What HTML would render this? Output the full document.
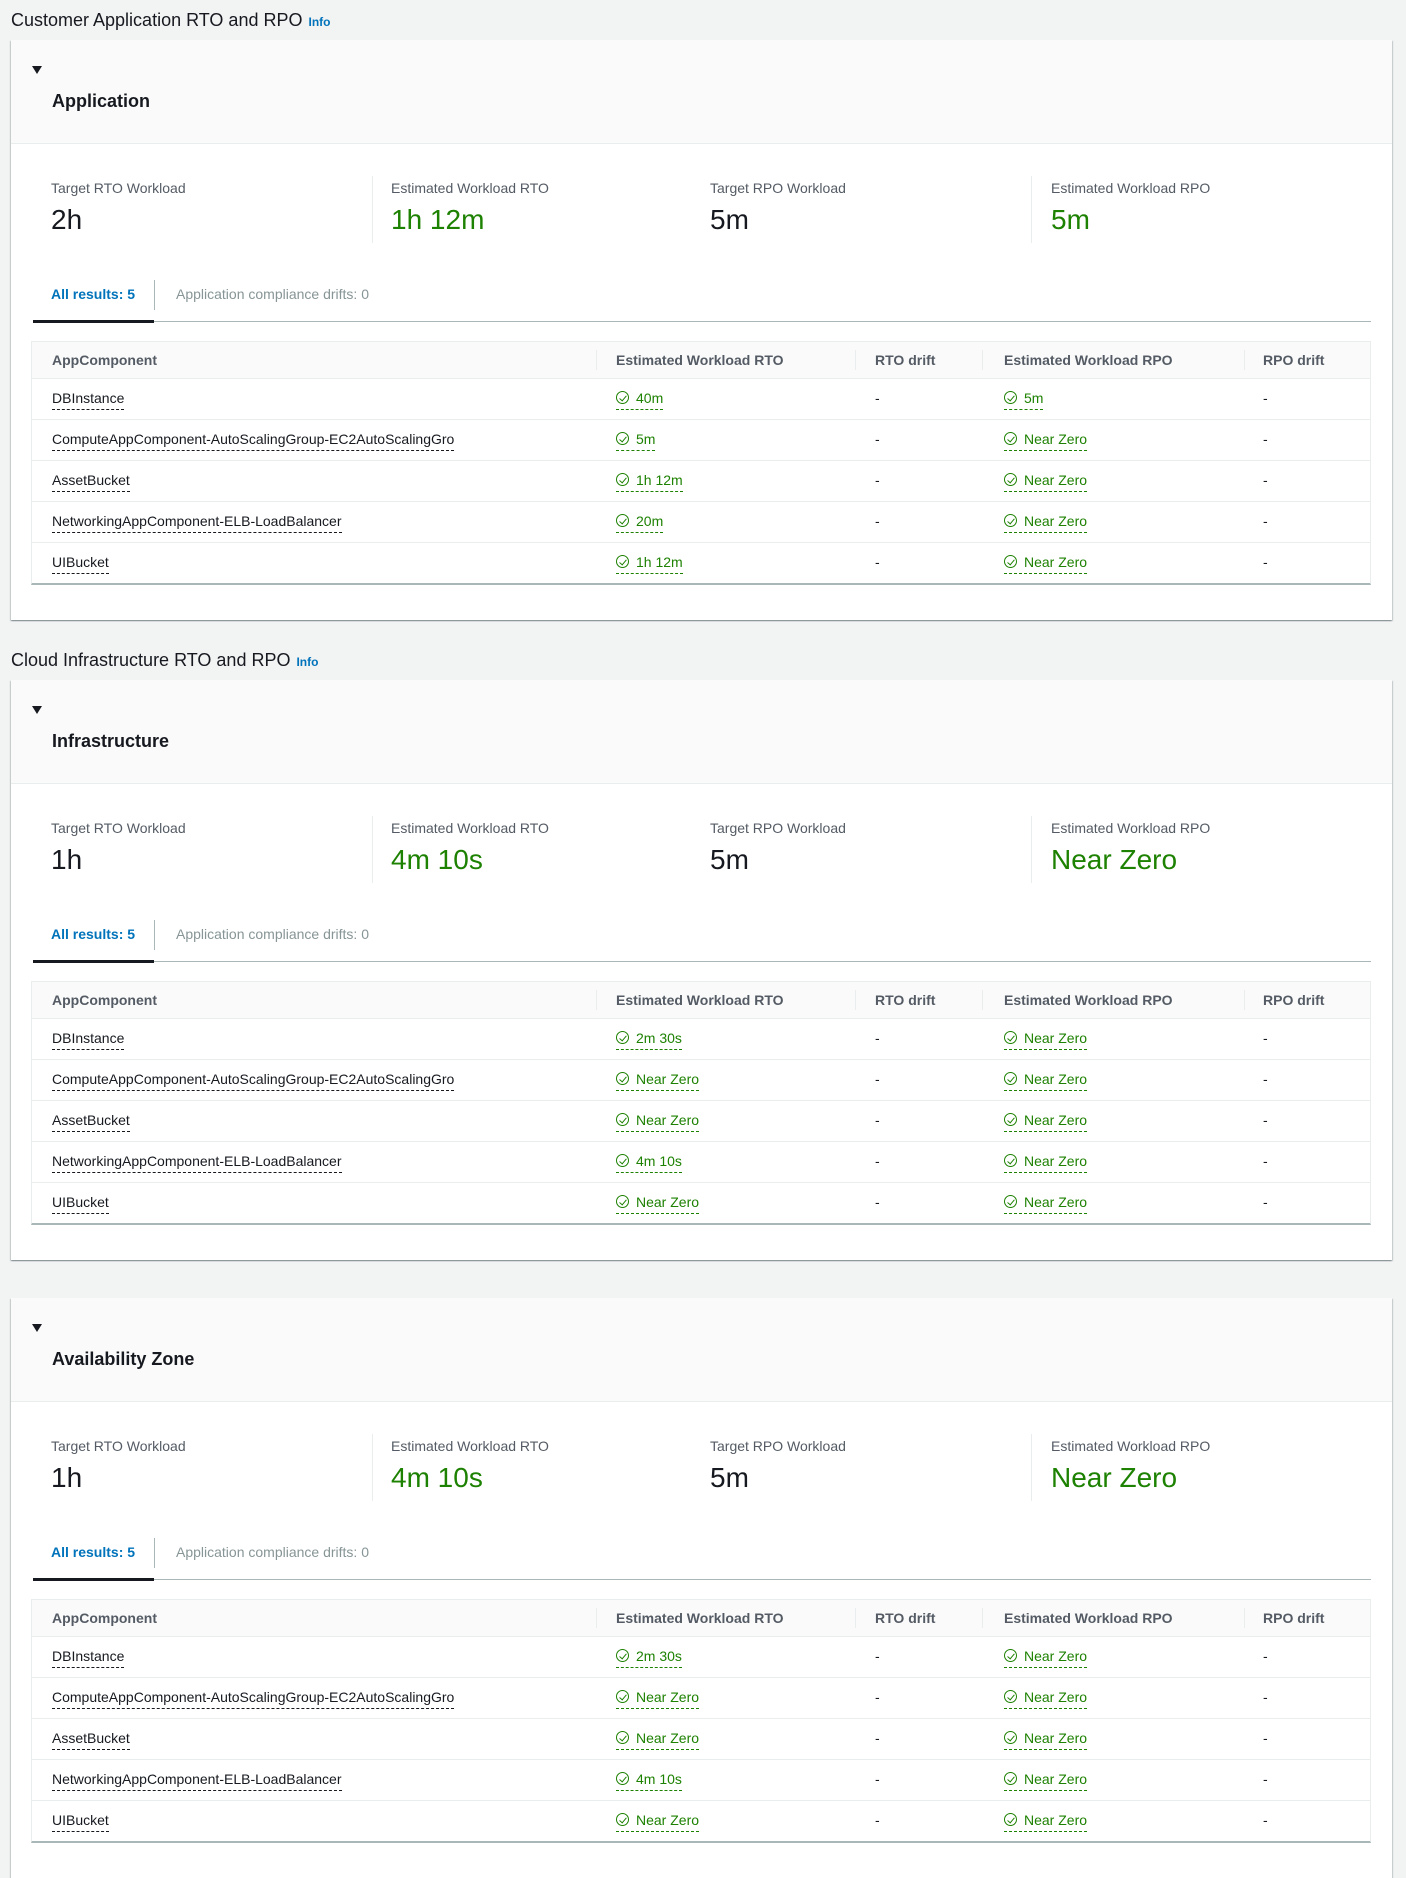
<!DOCTYPE html>
<html><head><meta charset="utf-8">
<style>
*{box-sizing:border-box;margin:0;padding:0}
body{width:1406px;height:1865px;background:#f2f3f3;font-family:"Liberation Sans",Arial,sans-serif;color:#16191f;position:relative;overflow:hidden}
.st{position:absolute;left:11px;font-size:18px;line-height:22px;color:#16191f}
.st b{font-size:12px;color:#0073bb;margin-left:6px}
.card{position:absolute;left:11px;width:1381px;height:580px;background:#fff;box-shadow:0 1px 1px 0 rgba(0,28,36,.3),1px 1px 1px 0 rgba(0,28,36,.15),-1px 1px 1px 0 rgba(0,28,36,.15)}
.hd{position:absolute;left:0;top:0;width:100%;height:104px;background:#fafafa;border-bottom:1px solid #eaeded}
.tri{position:absolute;left:21px;top:26px;width:0;height:0;border-left:5px solid transparent;border-right:5px solid transparent;border-top:8px solid #16191f}
.ht{position:absolute;left:41px;top:50px;font-size:18px;font-weight:bold;line-height:22px}
.lbl{position:absolute;top:140px;font-size:14px;color:#545b64;line-height:17px}
.val{position:absolute;top:163px;font-size:28px;line-height:34px}
.g{color:#1d8102}
.vd{position:absolute;top:136px;width:1px;height:67px;background:#eaeded}
.tab1{position:absolute;left:40px;top:246px;font-size:14px;font-weight:bold;color:#0073bb}
.tab2{position:absolute;left:165px;top:246px;font-size:14px;color:#879596}
.tdv{position:absolute;left:143px;top:240px;width:1px;height:30px;background:#aab7b8}
.tl{position:absolute;left:22px;top:281px;width:1338px;height:1px;background:#aab7b8}
.ta{position:absolute;left:22px;top:280px;width:121px;height:3px;background:#16191f}
.tbl{position:absolute;left:20px;top:301px;width:1340px;height:244px;border:1px solid #eaeded;border-bottom:2px solid #aab7b8;background:#fff}
.th{position:absolute;left:0;top:0;width:100%;height:37px;background:#fafafa;border-bottom:1px solid #eaeded}
.th span{position:absolute;top:10px;font-size:14px;font-weight:bold;color:#545b64}
.th i{position:absolute;top:8px;width:1px;height:20px;background:#eaeded}
.r{position:absolute;left:0;width:100%;height:41px;border-bottom:1px solid #eaeded}
.r:last-child{border-bottom:none}
.r span{position:absolute;top:11px;font-size:14px;line-height:17px}
.n{border-bottom:1px dashed #16191f;padding-bottom:2px}
.ok{color:#1d8102;border-bottom:1px dashed #1d8102;padding-bottom:2px;padding-left:20px}
.ok:before{content:"";position:absolute;left:0;top:1px;width:11px;height:11px;border:1.6px solid #1d8102;border-radius:50%}
.ok:after{content:"";position:absolute;left:4.5px;top:4px;width:3px;height:6px;border-right:1.6px solid #1d8102;border-bottom:1.6px solid #1d8102;transform:rotate(40deg)}
.d{color:#16191f}
</style></head><body>

<div class="st" style="top:9px">Customer Application RTO and RPO<b>Info</b></div>
<div class="card" style="top:40px">
 <div class="hd"><div class="tri"></div><div class="ht">Application</div></div>
 <div class="lbl" style="left:40px">Target RTO Workload</div><div class="val" style="left:40px">2h</div>
 <div class="vd" style="left:361px"></div>
 <div class="lbl" style="left:380px">Estimated Workload RTO</div><div class="val g" style="left:380px">1h 12m</div>
 <div class="lbl" style="left:699px">Target RPO Workload</div><div class="val" style="left:699px">5m</div>
 <div class="vd" style="left:1020px"></div>
 <div class="lbl" style="left:1040px">Estimated Workload RPO</div><div class="val g" style="left:1040px">5m</div>
 <div class="tab1">All results: 5</div><div class="tdv"></div><div class="tab2">Application compliance drifts: 0</div>
 <div class="tl"></div><div class="ta"></div>
 <div class="tbl">
  <div class="th"><span style="left:20px">AppComponent</span><i style="left:564px"></i><span style="left:584px">Estimated Workload RTO</span><i style="left:823px"></i><span style="left:843px">RTO drift</span><i style="left:950px"></i><span style="left:972px">Estimated Workload RPO</span><i style="left:1212px"></i><span style="left:1231px">RPO drift</span></div>
  <div class="r" style="top:37px"><span class="n" style="left:20px">DBInstance</span><span class="ok" style="left:584px">40m</span><span class="d" style="left:843px">-</span><span class="ok" style="left:972px">5m</span><span class="d" style="left:1231px">-</span></div>
  <div class="r" style="top:78px"><span class="n" style="left:20px">ComputeAppComponent-AutoScalingGroup-EC2AutoScalingGro</span><span class="ok" style="left:584px">5m</span><span class="d" style="left:843px">-</span><span class="ok" style="left:972px">Near Zero</span><span class="d" style="left:1231px">-</span></div>
  <div class="r" style="top:119px"><span class="n" style="left:20px">AssetBucket</span><span class="ok" style="left:584px">1h 12m</span><span class="d" style="left:843px">-</span><span class="ok" style="left:972px">Near Zero</span><span class="d" style="left:1231px">-</span></div>
  <div class="r" style="top:160px"><span class="n" style="left:20px">NetworkingAppComponent-ELB-LoadBalancer</span><span class="ok" style="left:584px">20m</span><span class="d" style="left:843px">-</span><span class="ok" style="left:972px">Near Zero</span><span class="d" style="left:1231px">-</span></div>
  <div class="r" style="top:201px"><span class="n" style="left:20px">UIBucket</span><span class="ok" style="left:584px">1h 12m</span><span class="d" style="left:843px">-</span><span class="ok" style="left:972px">Near Zero</span><span class="d" style="left:1231px">-</span></div>
 </div>
</div>

<div class="st" style="top:649px">Cloud Infrastructure RTO and RPO<b>Info</b></div>
<div class="card" style="top:680px">
 <div class="hd"><div class="tri"></div><div class="ht">Infrastructure</div></div>
 <div class="lbl" style="left:40px">Target RTO Workload</div><div class="val" style="left:40px">1h</div>
 <div class="vd" style="left:361px"></div>
 <div class="lbl" style="left:380px">Estimated Workload RTO</div><div class="val g" style="left:380px">4m 10s</div>
 <div class="lbl" style="left:699px">Target RPO Workload</div><div class="val" style="left:699px">5m</div>
 <div class="vd" style="left:1020px"></div>
 <div class="lbl" style="left:1040px">Estimated Workload RPO</div><div class="val g" style="left:1040px">Near Zero</div>
 <div class="tab1">All results: 5</div><div class="tdv"></div><div class="tab2">Application compliance drifts: 0</div>
 <div class="tl"></div><div class="ta"></div>
 <div class="tbl">
  <div class="th"><span style="left:20px">AppComponent</span><i style="left:564px"></i><span style="left:584px">Estimated Workload RTO</span><i style="left:823px"></i><span style="left:843px">RTO drift</span><i style="left:950px"></i><span style="left:972px">Estimated Workload RPO</span><i style="left:1212px"></i><span style="left:1231px">RPO drift</span></div>
  <div class="r" style="top:37px"><span class="n" style="left:20px">DBInstance</span><span class="ok" style="left:584px">2m 30s</span><span class="d" style="left:843px">-</span><span class="ok" style="left:972px">Near Zero</span><span class="d" style="left:1231px">-</span></div>
  <div class="r" style="top:78px"><span class="n" style="left:20px">ComputeAppComponent-AutoScalingGroup-EC2AutoScalingGro</span><span class="ok" style="left:584px">Near Zero</span><span class="d" style="left:843px">-</span><span class="ok" style="left:972px">Near Zero</span><span class="d" style="left:1231px">-</span></div>
  <div class="r" style="top:119px"><span class="n" style="left:20px">AssetBucket</span><span class="ok" style="left:584px">Near Zero</span><span class="d" style="left:843px">-</span><span class="ok" style="left:972px">Near Zero</span><span class="d" style="left:1231px">-</span></div>
  <div class="r" style="top:160px"><span class="n" style="left:20px">NetworkingAppComponent-ELB-LoadBalancer</span><span class="ok" style="left:584px">4m 10s</span><span class="d" style="left:843px">-</span><span class="ok" style="left:972px">Near Zero</span><span class="d" style="left:1231px">-</span></div>
  <div class="r" style="top:201px"><span class="n" style="left:20px">UIBucket</span><span class="ok" style="left:584px">Near Zero</span><span class="d" style="left:843px">-</span><span class="ok" style="left:972px">Near Zero</span><span class="d" style="left:1231px">-</span></div>
 </div>
</div>

<div class="card" style="top:1298px">
 <div class="hd"><div class="tri"></div><div class="ht">Availability Zone</div></div>
 <div class="lbl" style="left:40px">Target RTO Workload</div><div class="val" style="left:40px">1h</div>
 <div class="vd" style="left:361px"></div>
 <div class="lbl" style="left:380px">Estimated Workload RTO</div><div class="val g" style="left:380px">4m 10s</div>
 <div class="lbl" style="left:699px">Target RPO Workload</div><div class="val" style="left:699px">5m</div>
 <div class="vd" style="left:1020px"></div>
 <div class="lbl" style="left:1040px">Estimated Workload RPO</div><div class="val g" style="left:1040px">Near Zero</div>
 <div class="tab1">All results: 5</div><div class="tdv"></div><div class="tab2">Application compliance drifts: 0</div>
 <div class="tl"></div><div class="ta"></div>
 <div class="tbl">
  <div class="th"><span style="left:20px">AppComponent</span><i style="left:564px"></i><span style="left:584px">Estimated Workload RTO</span><i style="left:823px"></i><span style="left:843px">RTO drift</span><i style="left:950px"></i><span style="left:972px">Estimated Workload RPO</span><i style="left:1212px"></i><span style="left:1231px">RPO drift</span></div>
  <div class="r" style="top:37px"><span class="n" style="left:20px">DBInstance</span><span class="ok" style="left:584px">2m 30s</span><span class="d" style="left:843px">-</span><span class="ok" style="left:972px">Near Zero</span><span class="d" style="left:1231px">-</span></div>
  <div class="r" style="top:78px"><span class="n" style="left:20px">ComputeAppComponent-AutoScalingGroup-EC2AutoScalingGro</span><span class="ok" style="left:584px">Near Zero</span><span class="d" style="left:843px">-</span><span class="ok" style="left:972px">Near Zero</span><span class="d" style="left:1231px">-</span></div>
  <div class="r" style="top:119px"><span class="n" style="left:20px">AssetBucket</span><span class="ok" style="left:584px">Near Zero</span><span class="d" style="left:843px">-</span><span class="ok" style="left:972px">Near Zero</span><span class="d" style="left:1231px">-</span></div>
  <div class="r" style="top:160px"><span class="n" style="left:20px">NetworkingAppComponent-ELB-LoadBalancer</span><span class="ok" style="left:584px">4m 10s</span><span class="d" style="left:843px">-</span><span class="ok" style="left:972px">Near Zero</span><span class="d" style="left:1231px">-</span></div>
  <div class="r" style="top:201px"><span class="n" style="left:20px">UIBucket</span><span class="ok" style="left:584px">Near Zero</span><span class="d" style="left:843px">-</span><span class="ok" style="left:972px">Near Zero</span><span class="d" style="left:1231px">-</span></div>
 </div>
</div>
</body></html>
